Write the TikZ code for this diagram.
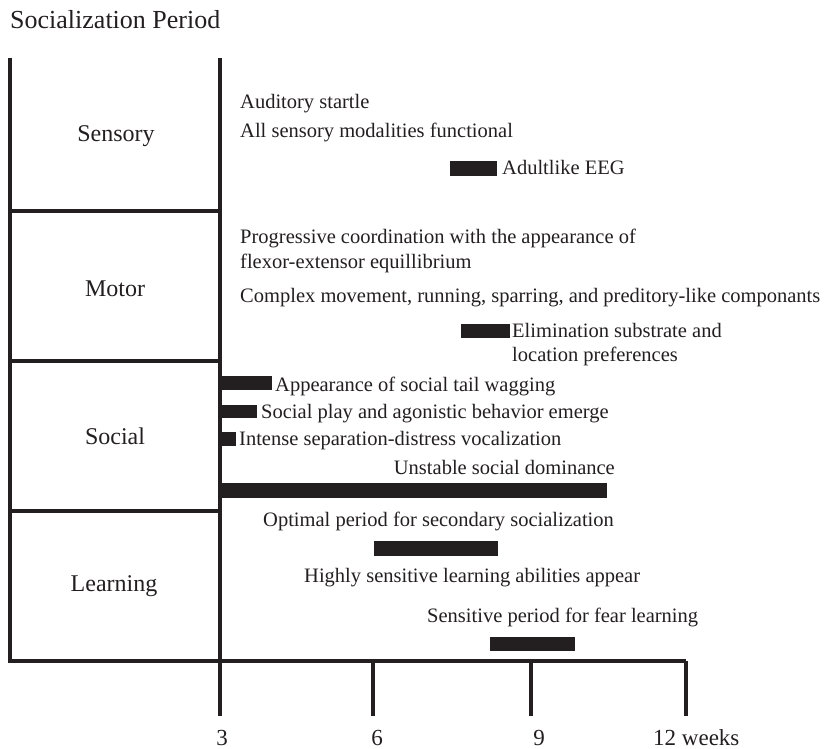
\documentclass[tikz,border=0pt]{standalone}
\usepackage{fontspec}
\setmainfont{Liberation Serif}
\definecolor{ink}{HTML}{231F20}
\begin{document}
\begin{tikzpicture}[x=1pt,y=-1pt,
  evt/.style={anchor=base west,inner sep=0pt,text=ink,font=\fontsize{20.5}{24}\selectfont},
  evtr/.style={evt,anchor=base east},
  lab/.style={anchor=base,inner sep=0pt,text=ink,font=\fontsize{24}{28}\selectfont},
  ttl/.style={anchor=base west,inner sep=0pt,text=ink,font=\fontsize{26}{30}\selectfont},
  axl/.style={anchor=base,inner sep=0pt,text=ink,font=\fontsize{23}{27}\selectfont},
  rule/.style={draw=ink,line width=3.5pt},
  bar/.style={fill=ink,draw=none,inner sep=0pt,anchor=north west}]
\useasboundingbox (0,0) rectangle (835,749);

% title
\node[ttl] (title) at (10,29) {Socialization Period};

% frame of the category column
\draw[rule] (10,58) -- (10,661);
\draw[rule] (220,58) -- (220,716);
\draw[rule] (10,211) -- (220,211);
\draw[rule] (10,361) -- (220,361);
\draw[rule] (10,511) -- (220,511);

% time axis with ticks
\coordinate (a0) at (8,661);
\coordinate (a12) at (686,661);
\draw[rule] (a0) -- (a12);
\draw[rule] (373,661) -- (373,716);
\draw[rule] (531,661) -- (531,716);
\draw[rule] (686,661) -- (686,716);
\node[axl] (w3) at (222,745) {3};
\node[axl] (w6) at (377,745) {6};
\node[axl] (w9) at (539,745) {9};
\node[axl,anchor=base west] (w12) at (653,745) {12 weeks};

% category labels
\node[lab] (sensory) at (116,142) {Sensory};
\node[lab] (motor) at (115,296) {Motor};
\node[lab] (social) at (115,444) {Social};
\node[lab] (learning) at (114,591) {Learning};

% sensory
\node[evt] (s1) at (240,109) {Auditory startle};
\node[evt] (s2) at (240,138) {All sensory modalities functional};
\node[bar,minimum width=47pt,minimum height=15pt] (b1) at (450,161) {};
\node[evt] (s3) at (502,174) {Adultlike EEG};

% motor
\node[evt] (m1) at (240,243) {Progressive coordination with the appearance of};
\node[evt] (m2) at (240,268) {flexor-extensor equillibrium};
\node[evt] (m3) at (240,302) {Complex movement, running, sparring, and preditory-like componants};
\node[bar,minimum width=49pt,minimum height=14pt] (b2) at (461,324) {};
\node[evt] (m4) at (512,337) {Elimination substrate and};
\node[evt] (m5) at (512,361) {location preferences};

% social
\node[bar,minimum width=52pt,minimum height=14pt] (b3) at (220,376) {};
\node[evt] (c1) at (275,391) {Appearance of social tail wagging};
\node[bar,minimum width=37pt,minimum height=13pt] (b4) at (220,405) {};
\node[evt] (c2) at (261,418) {Social play and agonistic behavior emerge};
\node[bar,minimum width=16pt,minimum height=14pt] (b5) at (220,432) {};
\node[evt] (c3) at (239,445) {Intense separation-distress vocalization};
\node[evtr] (c4) at (615,474) {Unstable social dominance};
\node[bar,minimum width=387pt,minimum height=15pt] (b6) at (220,483) {};

% learning
\node[evt] (l1) at (263,526) {Optimal period for secondary socialization};
\node[bar,minimum width=124pt,minimum height=15pt] (b7) at (374,541) {};
\node[evt] (l2) at (304,582) {Highly sensitive learning abilities appear};
\node[evt] (l3) at (427,622) {Sensitive period for fear learning};
\node[bar,minimum width=85pt,minimum height=14pt] (b8) at (490,637) {};
\end{tikzpicture}
\end{document}
